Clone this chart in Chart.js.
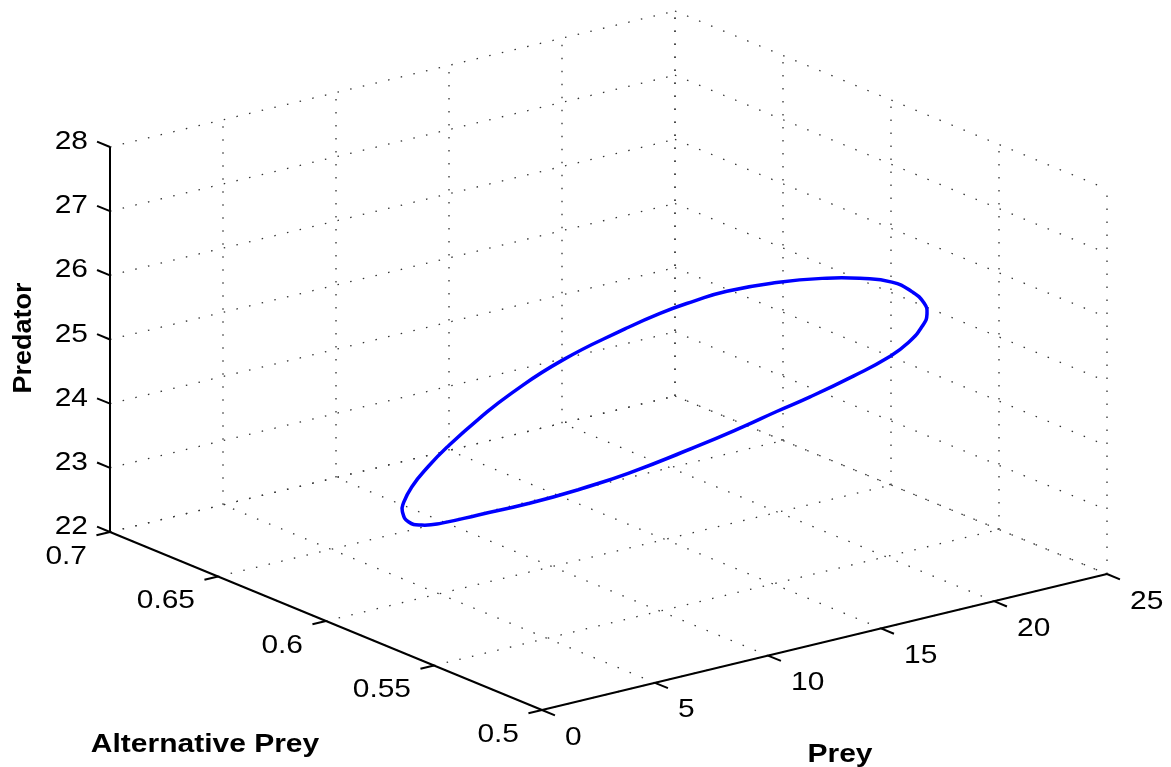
<!DOCTYPE html>
<html>
<head>
<meta charset="utf-8">
<script src="https://cdn.jsdelivr.net/npm/chart.js@4"></script>
<style>
  body { margin: 0; background: #fff; }
  canvas { display: block; }
</style>
</head>
<body>
<canvas id="c" width="1171" height="767"></canvas>
<script>
// axis limits and ticks
const preyTicks = [0, 5, 10, 15, 20, 25];
const altTicks = [0.5, 0.55, 0.6, 0.65, 0.7];
const altLabels = ['0.5', '0.55', '0.6', '0.65', '0.7'];
const predTicks = [22, 23, 24, 25, 26, 27, 28];

// limit cycle, one point per sample (prey, alternative prey, predator)
const prey = [22.77, 22.64, 22.29, 21.60, 20.57, 19.48, 17.74, 16.11, 15.01, 13.92, 12.75, 10.62,
  8.98, 7.79, 6.85, 6.15, 5.61, 5.33, 5.29, 5.46, 5.96, 6.65, 7.79, 9.53, 11.16, 12.80,
  15.08, 16.65, 17.74, 18.84, 20.37, 21.47, 22.14, 22.69];
const altPrey = [0.560, 0.560, 0.562, 0.564, 0.568, 0.572, 0.577, 0.583, 0.587, 0.591, 0.595, 0.602,
  0.608, 0.611, 0.615, 0.617, 0.619, 0.620, 0.620, 0.619, 0.618, 0.616, 0.611, 0.606, 0.600, 0.594,
  0.587, 0.581, 0.577, 0.573, 0.569, 0.565, 0.562, 0.561];
const predator = [25.41, 25.59, 25.77, 25.95, 26.04, 26.08, 26.09, 26.01, 25.89, 25.74, 25.54, 25.13,
  24.68, 24.33, 23.94, 23.65, 23.35, 23.10, 22.98, 22.82, 22.74, 22.74, 22.84, 22.94, 23.10, 23.30,
  23.61, 23.88, 24.08, 24.27, 24.52, 24.76, 24.99, 25.23];

const preyLim = [0, 25], altLim = [0.5, 0.7], predLim = [22, 28];

// 3D view: where the box corners land on the view plane
const origin = [542, 710];        // (prey 0, alt 0.5, pred 22)
const preyVec = [565, -136];      // full prey range
const altVec = [-432, -178];      // full alt range
const predVec = [0, -385];        // full predator range

function proj(p, a, z) {
  const fp = (p - preyLim[0]) / (preyLim[1] - preyLim[0]);
  const fa = (a - altLim[0]) / (altLim[1] - altLim[0]);
  const fz = (z - predLim[0]) / (predLim[1] - predLim[0]);
  return {
    x: origin[0] + fp * preyVec[0] + fa * altVec[0] + fz * predVec[0],
    y: origin[1] + fp * preyVec[1] + fa * altVec[1] + fz * predVec[1]
  };
}

const datasets = [];
function seg(a, b, style) {
  datasets.push(Object.assign({ data: [proj(...a), proj(...b)], pointRadius: 0, tension: 0 }, style));
}

const gridStyle = { borderColor: '#333', borderWidth: 1.3, borderDash: [1.5, 11.5], order: 3 };
const axisStyle = { borderColor: '#000', borderWidth: 2, order: 1 };

// dotted grid on the back walls and floor
predTicks.forEach(z => {
  seg([0, 0.7, z], [25, 0.7, z], gridStyle);
  seg([25, 0.7, z], [25, 0.5, z], gridStyle);
});
preyTicks.forEach(p => {
  seg([p, 0.7, 22], [p, 0.7, 28], gridStyle);
  seg([p, 0.5, 22], [p, 0.7, 22], gridStyle);
});
altTicks.forEach(a => {
  seg([25, a, 22], [25, a, 28], gridStyle);
  seg([0, a, 22], [25, a, 22], gridStyle);
});

// solid axes
seg([0, 0.7, 22], [0, 0.7, 28], axisStyle);
seg([0, 0.7, 22], [0, 0.5, 22], axisStyle);
seg([0, 0.5, 22], [25, 0.5, 22], axisStyle);

// tick marks
predTicks.forEach(z => seg([0, 0.7, z], [0, 0.706, z], axisStyle));
altTicks.forEach(a => seg([0, a, 22], [-0.6, a, 22], axisStyle));
preyTicks.forEach(p => seg([p, 0.5, 22], [p, 0.494, 22], axisStyle));

// the orbit: wrap one point past the seam on both ends so the join is smooth
const pts = prey.map((p, i) => proj(p, altPrey[i], predator[i]));
const k = 25;
const orbit = pts.slice(k - 1).concat(pts.slice(0, k + 2));
datasets.push({
  data: orbit, pointRadius: 0,
  borderColor: '#0000ff', borderWidth: 3.5, tension: 0.5, order: 0
});

function txt(ctx, s, x, y, align, font, sx) {
  ctx.save();
  ctx.translate(x, y);
  ctx.scale(sx, 1);
  ctx.font = font;
  ctx.textAlign = align;
  ctx.textBaseline = 'alphabetic';
  ctx.fillStyle = '#000';
  ctx.fillText(s, 0, 0);
  ctx.restore();
}

const labelsPlugin = {
  id: 'labels3d',
  afterDraw(chart) {
    const ctx = chart.ctx;
    const tf = '26px "Liberation Sans", Arial, sans-serif';
    const bf = 'bold 25px "Liberation Sans", Arial, sans-serif';
    predTicks.forEach(z => {
      const pt = proj(0, 0.7, z);
      txt(ctx, String(z), pt.x - 22, pt.y + 2, 'right', tf, 1.15);
    });
    altTicks.forEach((a, i) => {
      const pt = proj(0, a, 22);
      txt(ctx, altLabels[i], pt.x - 23, pt.y + 31.5, 'right', tf, 1.15);
    });
    preyTicks.forEach(p => {
      const pt = proj(p, 0.5, 22);
      txt(ctx, String(p), pt.x + 23, pt.y + 34.5, 'left', tf, 1.15);
    });
    txt(ctx, 'Alternative Prey', 205, 752, 'center', bf, 1.2);
    txt(ctx, 'Prey', 840, 762, 'center', bf, 1.2);
    ctx.save();
    ctx.translate(31, 338);
    ctx.rotate(-Math.PI / 2);
    ctx.scale(1.08, 1);
    ctx.font = bf;
    ctx.textAlign = 'center';
    ctx.fillStyle = '#000';
    ctx.fillText('Predator', 0, 0);
    ctx.restore();
  }
};

new Chart(document.getElementById('c'), {
  type: 'line',
  data: { datasets },
  options: {
    responsive: false,
    animation: false,
    events: [],
    layout: { padding: 0 },
    elements: { line: { capBezierPoints: false } },
    scales: {
      x: { type: 'linear', min: 0, max: 1171, display: false },
      y: { type: 'linear', min: 0, max: 767, reverse: true, display: false }
    },
    plugins: { legend: { display: false }, tooltip: { enabled: false } }
  },
  plugins: [labelsPlugin]
});
</script>
</body>
</html>
